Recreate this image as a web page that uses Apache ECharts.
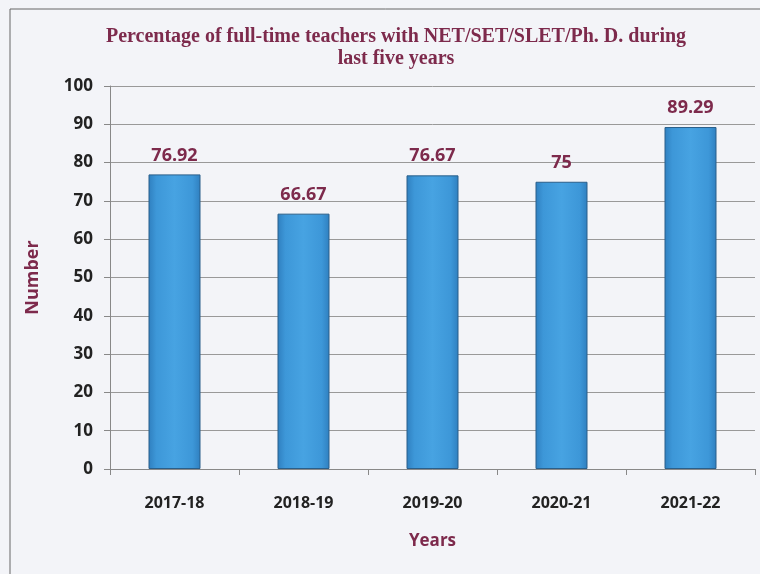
<!DOCTYPE html>
<html>
<head>
<meta charset="utf-8">
<script src="https://cdn.jsdelivr.net/npm/echarts@6/dist/echarts.min.js"></script>
<style>
html,body{margin:0;padding:0;background:#f3f4f8;}
#c{width:760px;height:574px;}
</style>
</head>
<body>
<div id="c"></div>
<script>
var titleText = 'Percentage of full-time teachers with NET/SET/SLET/Ph. D. during\nlast five years';
var categories = ['2017-18', '2018-19', '2019-20', '2020-21', '2021-22'];
var values = [76.92, 66.67, 76.67, 75, 89.29];
var yAxisName = 'Number';
var xAxisName = 'Years';

var chart = echarts.init(document.getElementById('c'));
var maroon = '#7d2a4c';
chart.setOption({
  backgroundColor: '#f3f4f8',
  animation: false,
  graphic: [{
    type: 'rect',
    shape: {x: 10, y: 9, width: 800, height: 600},
    style: {fill: 'none', stroke: '#666', lineWidth: 1}
  }],
  title: {
    text: titleText,
    left: 391,
    textAlign: 'center',
    top: 21,
    textStyle: {
      fontFamily: 'Liberation Serif',
      fontWeight: 'bold',
      fontSize: 20,
      color: maroon,
      lineHeight: 22
    }
  },
  grid: {left: 110, right: 5, top: 86, bottom: 105},
  xAxis: {
    type: 'category',
    data: categories,
    name: xAxisName,
    nameLocation: 'middle',
    nameGap: 64,
    nameTextStyle: {fontFamily: 'Open Sans', fontWeight: 'bold', fontSize: 17, color: maroon},
    axisLine: {lineStyle: {color: '#888'}},
    axisTick: {show: true, length: 6, lineStyle: {color: '#888'}},
    axisLabel: {fontFamily: 'Open Sans', fontWeight: 'bold', fontSize: 16, color: '#222', margin: 26}
  },
  yAxis: {
    type: 'value',
    min: 0, max: 100, interval: 10,
    name: yAxisName,
    nameLocation: 'middle',
    nameGap: 68,
    nameTextStyle: {fontFamily: 'Open Sans', fontWeight: 'bold', fontSize: 18, color: maroon},
    axisLine: {show: true, lineStyle: {color: '#888'}},
    axisTick: {show: true, length: 6, lineStyle: {color: '#888'}},
    axisLabel: {fontFamily: 'Open Sans', fontWeight: 'bold', fontSize: 17, color: '#222', margin: 17},
    splitLine: {lineStyle: {color: '#999', width: 1}}
  },
  series: [{
    type: 'bar',
    data: values,
    barWidth: 52,
    itemStyle: {
      color: new echarts.graphic.LinearGradient(0, 0, 1, 0, [
        {offset: 0, color: '#2f7fbf'},
        {offset: 0.15, color: '#3d97d8'},
        {offset: 0.5, color: '#47a3e2'},
        {offset: 0.85, color: '#3d97d8'},
        {offset: 1, color: '#2f7fbf'}
      ]),
      borderColor: '#2a5f8a',
      borderWidth: 1
    },
    label: {
      show: true,
      position: 'top',
      distance: 10,
      fontFamily: 'Open Sans',
      fontWeight: 'bold',
      fontSize: 18,
      color: maroon
    }
  }]
});
</script>
</body>
</html>
